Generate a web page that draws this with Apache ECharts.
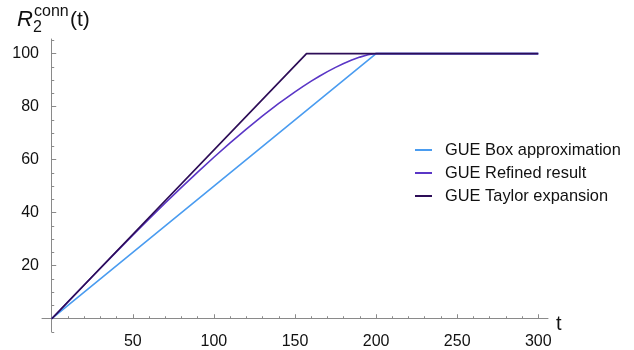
<!DOCTYPE html>
<html>
<head>
<meta charset="utf-8">
<script src="https://cdn.jsdelivr.net/npm/echarts@6/dist/echarts.min.js"></script>
<style>
  html, body { margin: 0; padding: 0; background: #fff; }
  #chart { width: 634px; height: 350px; }
</style>
</head>
<body>
<div id="chart"></div>
<script>
// Connected two-point form factor R2conn(t) for GUE: three approximations
const seriesNames = ['GUE Box approximation', 'GUE Refined result', 'GUE Taylor expansion'];

const boxT = [0, 200, 300];
const boxR = [0, 100, 100];

const refinedT = [0, 10, 20, 30, 40, 50, 60, 70, 80, 90, 100, 110, 120, 130, 140, 150,
                  155, 160, 165, 170, 175, 180, 185, 190, 195, 200, 300];
const refinedR = [0, 6.36, 12.71, 19.03, 25.29, 31.50, 37.62, 43.64, 49.54, 55.30, 60.90,
                  66.32, 71.52, 76.49, 81.19, 85.57, 87.63, 89.59, 91.45, 93.19, 94.79,
                  96.26, 97.56, 98.67, 99.53, 100, 100];

const taylorT = [0, 157.1, 300];
const taylorR = [0, 100, 100];

// tick positions
const xMajorTicks = [50, 100, 150, 200, 250, 300];
const xMinorTicks = [10, 20, 30, 40, 60, 70, 80, 90, 110, 120, 130, 140, 160, 170, 180, 190,
                     210, 220, 230, 240, 260, 270, 280, 290];
const yMajorTicks = [20, 40, 60, 80, 100];
const yMinorTicks = [-5, 5, 10, 15, 25, 30, 35, 45, 50, 55, 65, 70, 75, 85, 90, 95, 105];

const colors = ['#4a9cf0', '#5a36c6', '#2d0d57'];
const FONT = 'Liberation Sans, Arial, Helvetica, sans-serif';
const AXIS_COLOR = '#8a8a8a';

function pairs(xs, ys) { return xs.map((x, i) => [x, ys[i]]); }

const chart = echarts.init(document.getElementById('chart'), null, { renderer: 'canvas' });

const xRange = { min: -6, max: 306 };
const yRange = { min: -5, max: 105.5 };

chart.setOption({
  animation: false,
  backgroundColor: '#ffffff',
  grid: { left: 42, top: 39, width: 506, height: 302 },
  xAxis: [
    {
      type: 'value', position: 'bottom', ...xRange,
      axisLine: { show: true, onZero: true, lineStyle: { color: AXIS_COLOR, width: 1 } },
      axisTick: { show: true, inside: true, length: 4.5, customValues: xMajorTicks,
                  lineStyle: { color: AXIS_COLOR, width: 1 } },
      axisLabel: { show: true, customValues: xMajorTicks, margin: 2, fontSize: 16,
                   color: '#111', fontFamily: FONT },
      splitLine: { show: false }
    },
    {
      type: 'value', position: 'bottom', ...xRange,
      axisLine: { show: false, onZero: true },
      axisTick: { show: true, inside: true, length: 2.5, customValues: xMinorTicks,
                  lineStyle: { color: AXIS_COLOR, width: 1 } },
      axisLabel: { show: false },
      splitLine: { show: false }
    }
  ],
  yAxis: [
    {
      type: 'value', position: 'left', ...yRange,
      axisLine: { show: true, onZero: true, lineStyle: { color: AXIS_COLOR, width: 1 } },
      axisTick: { show: true, inside: true, length: 4.5, customValues: yMajorTicks,
                  lineStyle: { color: AXIS_COLOR, width: 1 } },
      axisLabel: { show: true, customValues: yMajorTicks, margin: 3, fontSize: 16,
                   color: '#111', fontFamily: FONT },
      splitLine: { show: false }
    },
    {
      type: 'value', position: 'left', ...yRange,
      axisLine: { show: false, onZero: true },
      axisTick: { show: true, inside: true, length: 2.5, customValues: yMinorTicks,
                  lineStyle: { color: AXIS_COLOR, width: 1 } },
      axisLabel: { show: false },
      splitLine: { show: false }
    }
  ],
  legend: {
    orient: 'vertical',
    left: 415, top: 142,
    padding: 0,
    itemWidth: 17, itemHeight: 2, itemGap: 7,
    icon: 'rect',
    data: seriesNames,
    textStyle: { fontSize: 16.4, fontFamily: FONT, color: '#111', lineHeight: 16,
                 padding: [0, 0, 0, 8] }
  },
  graphic: [
    { type: 'text', x: 17, y: 20,
      style: { text: 'R', font: 'italic 22px ' + FONT, fill: '#111', verticalAlign: 'middle' } },
    { type: 'text', x: 33, y: 28,
      style: { text: '2', font: '16px ' + FONT, fill: '#111', verticalAlign: 'middle' } },
    { type: 'text', x: 34, y: 12,
      style: { text: 'conn', font: '16px ' + FONT, fill: '#111', verticalAlign: 'middle' } },
    { type: 'text', x: 70, y: 20,
      style: { text: '(t)', font: '21px ' + FONT, fill: '#111', verticalAlign: 'middle' } },
    { type: 'text', x: 556, y: 324,
      style: { text: 't', font: '20px ' + FONT, fill: '#111', verticalAlign: 'middle' } }
  ],
  series: [
    { name: seriesNames[0], type: 'line', showSymbol: false, color: colors[0],
      lineStyle: { width: 1.6, color: colors[0] }, data: pairs(boxT, boxR) },
    { name: seriesNames[1], type: 'line', showSymbol: false, color: colors[1],
      lineStyle: { width: 1.6, color: colors[1] }, data: pairs(refinedT, refinedR) },
    { name: seriesNames[2], type: 'line', showSymbol: false, color: colors[2],
      lineStyle: { width: 1.7, color: colors[2] }, data: pairs(taylorT, taylorR) }
  ]
});
</script>
</body>
</html>
